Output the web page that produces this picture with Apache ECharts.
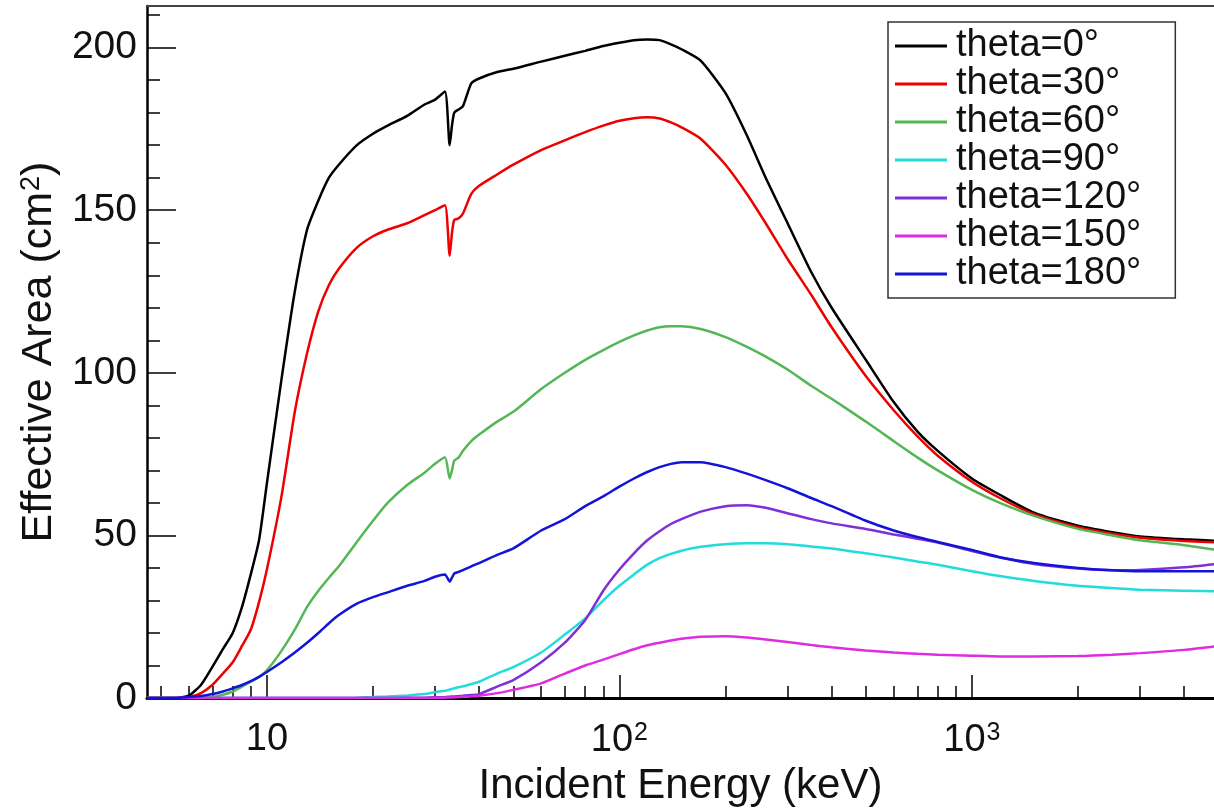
<!DOCTYPE html>
<html><head><meta charset="utf-8">
<script src="https://cdn.jsdelivr.net/npm/echarts@6/dist/echarts.min.js"></script>
<style>html,body{margin:0;padding:0;background:#fff}#c{width:1214px;height:812px}</style>
</head><body><div id="c"></div>
<script>
// Incident energy grid (keV)
const energies = [4.57, 5, 5.5, 6, 6.5, 7, 7.5, 8, 8.5, 9, 9.5, 10, 11, 12, 13, 14, 15, 16, 18, 20, 22, 25, 28, 30, 32, 33, 33.5, 34, 35, 36, 38, 40, 45, 50, 60, 70, 80, 90, 100, 110, 120, 130, 140, 150, 170, 200, 230, 260, 300, 350, 400, 500, 600, 700, 800, 1000, 1200, 1500, 2000, 2500, 3000, 4000, 5000];

// Effective area (cm^2) per incidence angle
const theta0 = [0, 0, 0, 0.7, 4, 9.5, 15, 20, 28, 38, 48.5, 66, 98, 125, 144, 153, 160, 164, 170, 173.5, 176, 179, 182.5, 184, 186.5, 170, 176, 180, 181, 182, 189, 190.5, 192.5, 193.5, 195.7, 197.5, 199, 200.5, 201.5, 202.3, 202.5, 202.3, 201, 199.5, 196, 186, 173, 160, 146, 131, 120, 104, 91, 82, 76, 67.5, 62.5, 57, 53, 51, 49.7, 48.8, 48.3];
const theta30 = [0, 0, 0, 0.2, 1.5, 4, 7.5, 11, 16, 21, 29.5, 39.5, 62, 88, 106, 119, 127, 132, 138.5, 142, 144, 146, 148.5, 150, 151.5, 136, 143, 147, 147.5, 149, 155, 157.5, 161, 164, 168.5, 171.5, 174, 176, 177.5, 178.3, 178.6, 178.2, 177, 175.5, 172, 164, 155, 146, 135, 124, 114, 99, 88.5, 80.5, 74.5, 66.5, 61.5, 56.5, 52.5, 50.5, 49.3, 48.3, 47.8];
const theta60 = [0, 0, 0, 0, 0, 0.3, 1, 2, 3.5, 5, 6.5, 8.5, 14.5, 21, 28, 33, 37, 40.5, 48, 54.5, 60, 65.5, 69.3, 72, 74, 67.5, 70, 73, 74, 76, 79, 81, 85, 88, 95, 100, 104, 107, 109.5, 111.5, 113, 114, 114.3, 114.3, 113.5, 111, 108, 105, 101, 96, 92, 85, 79, 74, 70, 64, 60, 56, 52, 50, 48.5, 47, 45.5];
const theta90 = [0, 0, 0, 0, 0, 0, 0, 0, 0, 0, 0, 0, 0, 0, 0, 0, 0, 0, 0.1, 0.3, 0.5, 0.8, 1.2, 1.8, 2.2, 2.6, 2.8, 3, 3.3, 3.6, 4.3, 5, 7.5, 9.5, 14, 19.5, 24.5, 30, 34.5, 38, 41, 43, 44.3, 45.3, 46.5, 47.3, 47.6, 47.6, 47.3, 46.6, 46, 44.5, 43.2, 42, 41, 39, 37.5, 36, 34.5, 33.8, 33.3, 33, 32.8];
const theta120 = [0, 0, 0, 0, 0, 0, 0, 0, 0, 0, 0, 0, 0, 0, 0, 0, 0, 0, 0, 0, 0, 0.05, 0.1, 0.2, 0.3, 0.4, 0.45, 0.5, 0.6, 0.7, 0.9, 1.2, 3.5, 5.5, 11, 17, 24, 33, 39.5, 44.5, 48.5, 51.3, 53.5, 55, 57.3, 59, 59.3, 58.5, 56.8, 55, 53.7, 52, 50.3, 49, 47.8, 45.2, 43.2, 41.2, 39.8, 39.3, 39.4, 40.2, 41.3];
const theta150 = [0, 0, 0, 0, 0, 0, 0, 0, 0, 0, 0, 0, 0, 0, 0, 0, 0, 0, 0, 0, 0, 0, 0, 0.05, 0.1, 0.15, 0.17, 0.2, 0.3, 0.35, 0.5, 0.7, 1.5, 2.5, 4.5, 7.5, 10, 11.8, 13.5, 15, 16.2, 17, 17.7, 18.2, 18.8, 19, 18.6, 18, 17.2, 16.3, 15.6, 14.6, 14, 13.6, 13.3, 13, 12.8, 12.8, 12.9, 13.3, 13.8, 14.8, 16];
const theta180 = [0, 0, 0, 0.3, 0.6, 1.2, 2, 3, 4, 5.2, 6.5, 8, 11, 14, 17, 20, 23, 25.5, 29, 31, 32.5, 34.5, 36, 37.3, 38, 35.8, 37, 38.3, 38.8, 39.3, 40.5, 41.5, 44, 46, 51.5, 55, 59, 62, 65, 67.5, 69.5, 71, 72, 72.5, 72.5, 71, 69, 67, 64.5, 61.5, 59, 54.5, 51.5, 49.5, 48, 45.5, 43.3, 41.5, 40, 39.3, 39, 39, 39];

const seriesNames = ['theta=0°', 'theta=30°', 'theta=60°', 'theta=90°', 'theta=120°', 'theta=150°', 'theta=180°'];
const seriesValues = [theta0, theta30, theta60, theta90, theta120, theta150, theta180];
const seriesColors = ['#000000', '#ee0000', '#55b655', '#20dcdc', '#7f2fd8', '#e02ce0', '#1414d8'];

// Axis ticks
const xMajorTicks = [10, 100, 1000];
const xMinorTicks = [5, 6, 7, 8, 9, 20, 30, 40, 50, 60, 70, 80, 90, 200, 300, 400, 500, 600, 700, 800, 900, 2000, 3000, 4000];
const yMajorTicks = [0, 50, 100, 150, 200];
const yMinorTicks = [10, 20, 30, 40, 60, 70, 80, 90, 110, 120, 130, 140, 160, 170, 180, 190, 210];

const X_MIN = 4.57, X_MAX = 4861, Y_MIN = 0, Y_MAX = 212.8;
const FONT = "'Liberation Sans', Arial, Helvetica, sans-serif";

const chart = echarts.init(document.getElementById('c'), null, {renderer: 'canvas'});

const series = seriesNames.map((name, k) => ({
  name: name,
  type: 'line',
  xAxisIndex: 0,
  yAxisIndex: 0,
  symbol: 'none',
  showSymbol: false,
  smooth: 0.2,
  animation: false,
  lineStyle: {color: seriesColors[k], width: 2.5},
  itemStyle: {color: seriesColors[k]},
  data: energies.map((e, i) => [e, seriesValues[k][i]])
}));

const option = {
  backgroundColor: '#ffffff',
  animation: false,
  grid: {left: 147, top: 6, right: 0, bottom: 112, containLabel: false},
  legend: {
    orient: 'vertical',
    left: 888,
    top: 22,
    data: seriesNames,
    icon: 'rect',
    itemWidth: 52,
    itemHeight: 3,
    itemGap: 0,
    padding: [5, 34, 5, 7],
    borderColor: '#333333',
    borderWidth: 1.5,
    backgroundColor: '#ffffff',
    textStyle: {fontFamily: FONT, fontSize: 38, lineHeight: 38, color: '#111111', padding: [0, 0, 0, 4]}
  },
  xAxis: [
    {
      type: 'log', min: X_MIN, max: X_MAX, position: 'bottom',
      axisLine: {show: true, onZero: false, lineStyle: {color: '#000', width: 3}},
      axisTick: {show: true, inside: true, length: 23, customValues: xMajorTicks, lineStyle: {color: '#000', width: 1.5}},
      axisLabel: {
        show: true, margin: 23, customValues: xMajorTicks,
        fontFamily: FONT, fontSize: 38, color: '#111',
        formatter: v => v === 10 ? '10' : '10{sup|' + Math.round(Math.log10(v)) + '}',
        rich: {sup: {fontFamily: FONT, fontSize: 25, color: '#111', verticalAlign: 'top', padding: [0, 0, 14, 1]}}
      },
      splitLine: {show: false},
      minorTick: {show: false},
      name: 'Incident Energy (keV)', nameLocation: 'middle', nameGap: 67,
      nameTextStyle: {fontFamily: FONT, fontSize: 42, color: '#111'}
    },
    {
      type: 'log', min: X_MIN, max: X_MAX, position: 'bottom',
      axisLine: {show: false, onZero: false},
      axisTick: {show: true, inside: true, length: 12, customValues: xMinorTicks, lineStyle: {color: '#000', width: 1.5}},
      axisLabel: {show: false},
      splitLine: {show: false}
    },
    {
      type: 'log', min: X_MIN, max: X_MAX, position: 'top',
      axisLine: {show: true, onZero: false, lineStyle: {color: '#444', width: 2}},
      axisTick: {show: false},
      axisLabel: {show: false},
      splitLine: {show: false}
    }
  ],
  yAxis: [
    {
      type: 'value', min: Y_MIN, max: Y_MAX, position: 'left',
      axisLine: {show: true, onZero: false, lineStyle: {color: '#000', width: 2.5}},
      axisTick: {show: true, inside: true, length: 29, customValues: yMajorTicks, lineStyle: {color: '#000', width: 1.5}},
      axisLabel: {show: true, margin: 10, customValues: yMajorTicks, fontFamily: FONT, fontSize: 39, color: '#111'},
      splitLine: {show: false},
      name: 'Effective Area (cm{sup|2})', nameLocation: 'middle', nameGap: 82, nameRotate: 90,
      nameTextStyle: {
        fontFamily: FONT, fontSize: 43, color: '#111',
        rich: {sup: {fontFamily: FONT, fontSize: 27, color: '#111', verticalAlign: 'top', padding: [0, 0, 16, 1]}}
      }
    },
    {
      type: 'value', min: Y_MIN, max: Y_MAX, position: 'left',
      axisLine: {show: false, onZero: false},
      axisTick: {show: true, inside: true, length: 13, customValues: yMinorTicks, lineStyle: {color: '#000', width: 1.5}},
      axisLabel: {show: false},
      splitLine: {show: false}
    }
  ],
  series: series
};

chart.setOption(option);
</script>
</body></html>
